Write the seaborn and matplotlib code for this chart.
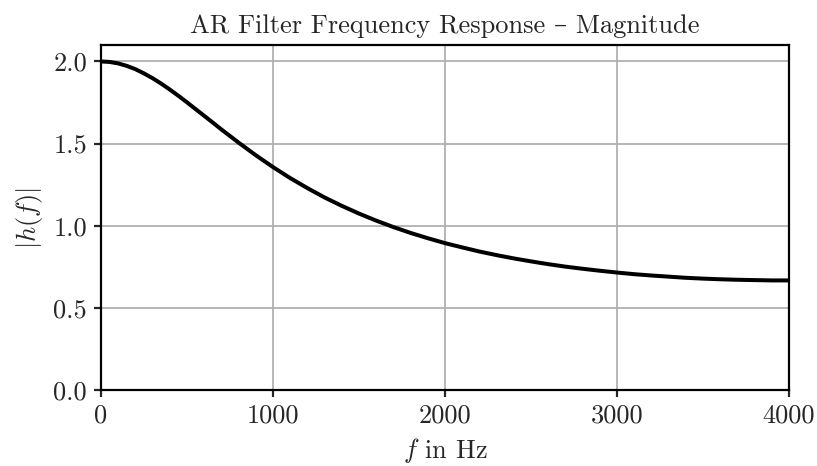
import matplotlib
matplotlib.use("Agg")
import matplotlib.pyplot as plt
import pandas as pd
import seaborn as sns

# frequency grid (Hz) and magnitude
freq_hz = [0, 50, 100, 150, 200, 250, 300, 350, 400, 450, 500, 550, 600, 650, 700, 800, 900,
           1000, 1100, 1200, 1300, 1400, 1500, 1600, 1700, 1800, 1900,
           2000, 2100, 2200, 2300, 2400, 2500, 2600, 2700, 2800, 2900,
           3000, 3100, 3200, 3300, 3400, 3500, 3600, 3700, 3800, 3900, 4000]
magnitude = [2.000, 1.997, 1.988, 1.973, 1.953, 1.927, 1.898, 1.865, 1.829, 1.791, 1.751,
             1.710, 1.669, 1.628, 1.586, 1.506, 1.429,
             1.357, 1.290, 1.229, 1.172, 1.121, 1.074, 1.031, 0.992, 0.956, 0.924,
             0.894, 0.868, 0.843, 0.821, 0.801, 0.783, 0.766, 0.751, 0.738, 0.726,
             0.715, 0.705, 0.697, 0.690, 0.683, 0.678, 0.674, 0.671, 0.669, 0.667, 0.667]
x_ticks = [0, 1000, 2000, 3000, 4000]
y_ticks = [0.0, 0.5, 1.0, 1.5, 2.0]

df = pd.DataFrame({"f": freq_hz, "h": magnitude})

sns.set_style("ticks")
plt.rcParams["font.family"] = ["cmr10", "DejaVu Serif"]
plt.rcParams["mathtext.fontset"] = "cm"
plt.rcParams["axes.formatter.use_mathtext"] = True
fs = 13.2
plt.rcParams["font.size"] = fs

fig = plt.figure(figsize=(817 / 144, 466 / 144), dpi=144)
ax = fig.add_axes([0.1236, 0.1631, 0.8421, 0.7403])

sns.lineplot(data=df, x="f", y="h", color="black", linewidth=2.0, ax=ax)

ax.set_xlim(0, 4000)
ax.set_ylim(0, 2.1)
ax.set_xticks(x_ticks)
ax.set_yticks(y_ticks)
ax.set_xticklabels([str(t) for t in x_ticks])
ax.set_yticklabels([f"{t:.1f}" for t in y_ticks])
ax.grid(True, color="#b0b0b0", linewidth=0.9)
for s in ax.spines.values():
    s.set_linewidth(1.1)
    s.set_color("black")
ax.tick_params(width=1.1, length=3.5, labelsize=fs)

ax.set_xlabel(r"$f$ in Hz", fontsize=fs)
ax.set_ylabel(r"$|h(f)|$", fontsize=fs)
ax.set_title("AR Filter Frequency Response – Magnitude", fontsize=fs,
             family=["cmr10", "DejaVu Serif"])

fig.savefig("out.png", dpi=144)
